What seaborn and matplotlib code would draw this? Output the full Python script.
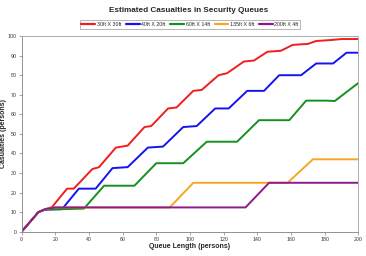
# -*- coding: utf-8 -*-
import numpy as np
import pandas as pd
import matplotlib.pyplot as plt
import seaborn as sns

# Valores (esquinas de cada escalón)
x_30x30 = [0, 5, 10, 14, 18, 27, 31, 42, 46, 56, 63, 73, 77, 87, 92, 102, 107, 117, 122,
           132, 138, 146, 154, 161, 170, 175, 184, 190, 200]
y_30x30 = [0, 5, 10, 11.5, 12.5, 22, 22, 32, 33, 43, 44, 53.5, 54, 63, 63.5, 72, 72.5, 80, 81,
           87, 87.5, 92, 92.5, 95.5, 96, 97.5, 98, 98.5, 98.5]

x_40x20 = [0, 5, 10, 14, 24, 34, 44, 54, 63, 75, 84, 96, 104, 115, 123, 134, 144, 153, 166,
           175, 185, 193, 200]
y_40x20 = [0, 5, 10, 11.3, 11.5, 22, 22, 32.5, 33, 43, 43.5, 53.5, 54, 63, 63, 72, 72, 80, 80,
           86, 86, 91.5, 91.5]

x_60x14 = [0, 5, 10, 14, 37, 49, 67, 80, 96, 110, 128, 141, 159, 169, 181, 186, 200]
y_60x14 = [0, 5, 10, 11.3, 11.8, 23.5, 23.5, 35, 35, 46, 46, 57, 57, 67, 67, 66.8, 76]

x_135x6 = [0, 5, 10, 14, 20, 88, 102, 158, 173, 200]
y_135x6 = [0, 5, 10, 11.5, 12.4, 12.4, 25, 25, 37, 37]

x_200x4 = [0, 5, 10, 14, 20, 133, 147, 200]
y_200x4 = [0, 5, 10, 11.5, 12.4, 12.4, 25, 25]

series = ["30ft X 30ft", "40ft X 20ft", "60ft X 14ft", "135ft X 6ft", "200ft X 4ft"]
colores = ["#F01E1E", "#1414F0", "#14901E", "#F5A623", "#8C1A8C"]

datos = pd.concat([
    pd.DataFrame({"x": x, "y": y, "serie": s})
    for x, y, s in zip([x_30x30, x_40x20, x_60x14, x_135x6, x_200x4],
                       [y_30x30, y_40x20, y_60x14, y_135x6, y_200x4], series)
])

sns.set_style("ticks")
plt.rcParams["font.family"] = ["Liberation Sans", "DejaVu Sans"]

fig = plt.figure(figsize=(3.66, 2.56), dpi=100)
ax = fig.add_axes([0.059, 0.095, 0.92, 0.764])

sns.lineplot(data=datos, x="x", y="y", hue="serie", hue_order=series,
             palette=colores, sort=False, estimator=None, linewidth=1.4,
             legend=False, ax=ax)

ax.set_xlim(0, 200)
ax.set_ylim(0, 100)
ax.set_xticks(np.arange(0, 201, 20))
ax.set_yticks(np.arange(0, 101, 10))
ax.tick_params(labelsize=3.8, length=2, width=0.5, color="#808080",
               labelcolor="#333333", pad=1.5)
for lado in ["left", "bottom", "right", "top"]:
    ax.spines[lado].set_visible(True)
    ax.spines[lado].set_linewidth(0.6)
    ax.spines[lado].set_color("#A0A0A0")
ax.spines["left"].set_color("#808080")
ax.spines["bottom"].set_color("#808080")

ax.set_xlabel("Queue Length (persons)", fontsize=5, fontweight="bold", labelpad=1)
ax.set_ylabel("Casualties (persons)", fontsize=5, fontweight="bold")
ax.yaxis.set_label_coords(-0.042, 0.5)

fig.text(0.515, 0.958, "Estimated Casualties in Security Queues",
         ha="center", va="center", fontsize=5.9, fontweight="bold")

handles = [plt.Line2D([], [], color=c, linewidth=1.6) for c in colores]
leg = fig.legend(handles, series, loc="center", bbox_to_anchor=(0.519, 0.904), ncol=5,
                 fontsize=3.8, frameon=True, fancybox=False, edgecolor="#808080",
                 handlelength=2.6, handletextpad=0.3, columnspacing=0.9,
                 borderpad=0.35)
leg.get_frame().set_linewidth(0.5)

fig.savefig("out.png", dpi=100)
